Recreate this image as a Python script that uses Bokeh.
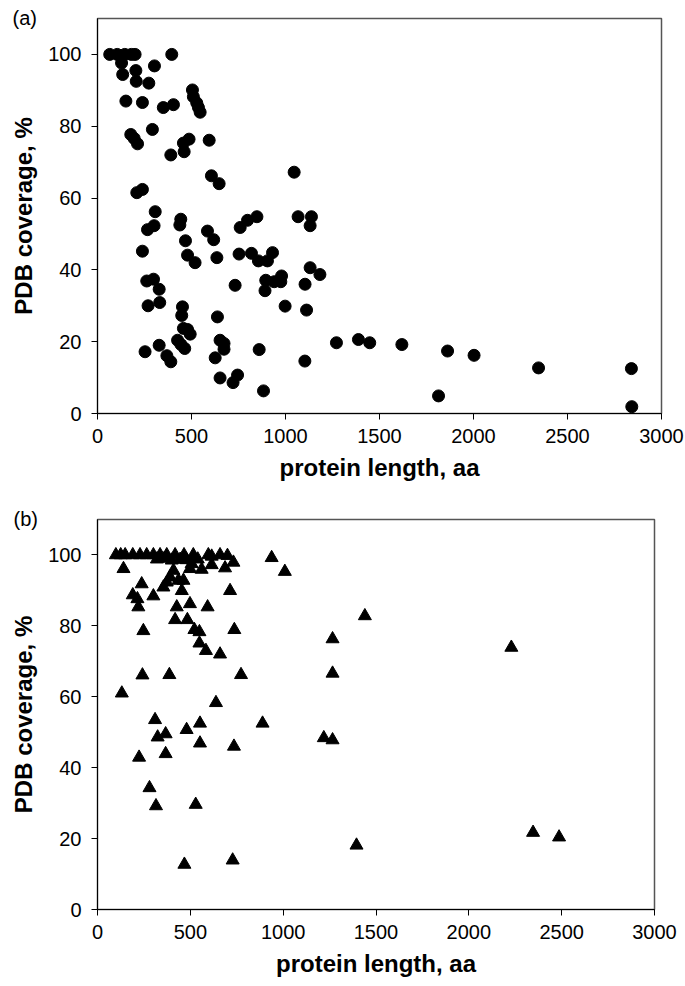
from bokeh.plotting import figure
from bokeh.layouts import column
from bokeh.models import FixedTicker, Range1d
from bokeh.embed import file_html
from bokeh.resources import INLINE

# Panel (a): protein length (aa) vs PDB coverage (%)
a_len = [65, 105, 145, 180, 200, 395,
         128, 134, 204, 206, 273, 303,
         151, 239, 350, 404,
         505, 510, 528, 537, 546,
         292, 177, 195, 213, 457, 487, 461, 390, 594,
         606, 647, 209, 239, 1046,
         1067, 1138, 1131,
         307, 266, 301, 443, 438, 468, 585, 618,
         759, 798, 848,
         239, 479, 519, 635, 753, 819, 856, 904, 931,
         262, 298, 328, 269, 331,
         732, 895, 891, 940, 975, 979, 998, 1104, 1131, 1183, 1112,
         452, 448, 638,
         457, 479, 493, 426, 444, 464,
         253, 328, 369, 390,
         652, 673, 673, 626,
         652, 721, 745, 860, 883, 1103, 1271,
         1388, 1448, 1619, 1862, 2003, 1814, 2346, 2840, 2842]
a_cov = [100, 100, 100, 100, 100, 100,
         97.6, 94.4, 95.5, 92.5, 92.0, 96.8,
         87.0, 86.6, 85.2, 86.0,
         90.1, 88.2, 86.5, 85.2, 83.9,
         79.1, 77.7, 76.6, 75.1, 75.3, 76.4, 72.9, 72.0, 76.1,
         66.2, 64.0, 61.5, 62.4, 67.2,
         54.8, 54.8, 52.3,
         56.2, 51.2, 52.3, 54.1, 52.5, 48.1, 50.8, 48.4,
         51.8, 53.8, 54.8,
         45.2, 44.1, 42.0, 43.4, 44.4, 44.6, 42.5, 42.5, 44.8,
         36.9, 37.4, 34.6, 30.0, 30.9,
         35.7, 37.1, 34.2, 36.7, 36.7, 38.3, 29.9, 36.0, 40.6, 38.7, 28.8,
         29.7, 27.3, 26.9,
         23.7, 23.4, 22.1, 20.4, 19.2, 18.1,
         17.2, 19.0, 16.1, 14.4,
         20.4, 19.5, 17.9, 15.5,
         9.9, 8.6, 10.7, 17.8, 6.3, 14.6, 19.7,
         20.6, 19.7, 19.2, 17.4, 16.2, 4.9, 12.7, 12.5, 1.9]

# Panel (b)
b_len = [99, 125, 149, 190, 229, 265, 301, 337, 373, 418, 466, 516, 597, 615, 660, 700,
         320, 360, 400, 445, 480, 540,
         732, 507, 615, 687, 561, 498, 140,
         409, 391, 373, 436, 463, 355, 238, 454, 714,
         190, 215, 301, 220, 427, 498, 593,
         418, 484, 247, 522, 549, 737, 549, 584, 660,
         242, 387, 773, 131,
         938, 1009, 1266, 1266, 1440, 2229,
         638, 310, 552, 889, 480, 367, 324, 552, 735, 1219, 1266, 224, 367,
         280, 315, 529, 468, 728, 1395, 2346, 2486]
b_cov = [100, 100, 100, 100, 100, 100, 100, 100, 100, 100, 100, 100, 100, 99.6, 100, 99.8,
         98.8, 99.0, 98.5, 98.7, 98.6, 98.8,
         97.9, 97.5, 97.2, 96.3, 95.9, 96.1, 96.1,
         95.6, 93.7, 92.3, 92.8, 92.8, 90.9, 91.8, 89.9, 89.9,
         88.7, 87.6, 88.4, 85.3, 85.3, 86.2, 85.3,
         81.7, 81.7, 78.6, 78.9, 78.3, 78.9, 75.1, 73.0, 72.0,
         66.1, 66.2, 66.2, 61.0,
         99.2, 95.3, 76.3, 66.6, 82.8, 73.9,
         58.3, 53.5, 52.5, 52.5, 50.7, 49.5, 48.6, 46.9, 46.0, 48.4, 47.8, 42.9, 43.9,
         34.3, 29.2, 29.6, 12.7, 13.9, 18.1, 21.7, 20.4]

x_ticks = [0, 500, 1000, 1500, 2000, 2500, 3000]
y_ticks = [0, 20, 40, 60, 80, 100]
x_title = "protein length, aa"
y_title = "PDB coverage, %"

FONT = "Liberation Sans"


def make_panel(fw, fh, bl, br, bt, bb, tag, tag_offset, tag_standoff):
    p = figure(frame_width=fw, frame_height=fh,
               min_border_left=bl, min_border_right=br,
               min_border_top=bt, min_border_bottom=bb,
               x_range=Range1d(0, 3000), y_range=Range1d(0, 110),
               output_backend="svg", toolbar_location=None)
    p.xgrid.visible = False
    p.ygrid.visible = False
    p.background_fill_color = "white"
    p.border_fill_color = "white"
    p.outline_line_color = "#555555"
    p.outline_line_width = 1.5
    p.xaxis.ticker = FixedTicker(ticks=x_ticks)
    p.yaxis.ticker = FixedTicker(ticks=y_ticks)
    p.xaxis.axis_label = x_title
    p.yaxis.axis_label = y_title
    for ax in (p.xaxis, p.yaxis):
        ax.axis_line_color = "black"
        ax.axis_line_width = 1
        ax.major_tick_line_color = "black"
        ax.major_tick_in = 0
        ax.major_tick_out = 6
        ax.minor_tick_line_color = None
        ax.major_label_text_font = FONT
        ax.major_label_text_font_size = "20px"
        ax.major_label_text_color = "black"
        ax.axis_label_text_font = FONT
        ax.axis_label_text_font_size = "24px"
        ax.axis_label_text_font_style = "bold"
        ax.axis_label_text_color = "black"
    p.xaxis.major_label_standoff = 9
    p.yaxis.major_label_standoff = 10
    p.xaxis.axis_label_standoff = 8
    p.yaxis.axis_label_standoff = 8
    # panel tag "(a)" / "(b)" as a left-aligned title pulled to the left of the frame
    p.title.text = tag
    p.title.align = "left"
    p.title.vertical_align = "top"
    p.title.offset = tag_offset
    p.title.standoff = tag_standoff
    p.title.text_font = FONT
    p.title.text_font_size = "20px"
    p.title.text_font_style = "normal"
    p.title.text_color = "black"
    return p


pa = make_panel(564, 395, 97, 24, 18, 80, "(a)", -85, -24)
pa.scatter(a_len, a_cov, marker="circle", size=12, fill_color="black", line_color="black")

pb = make_panel(557, 390, 96, 32, 26, 77, "(b)", -84, -24)
pb.scatter(b_len, b_cov, marker="triangle", size=13, fill_color="black", line_color="black")

layout = column(pa, pb, spacing=0)
open("out.html", "w").write(file_html(layout, INLINE))
